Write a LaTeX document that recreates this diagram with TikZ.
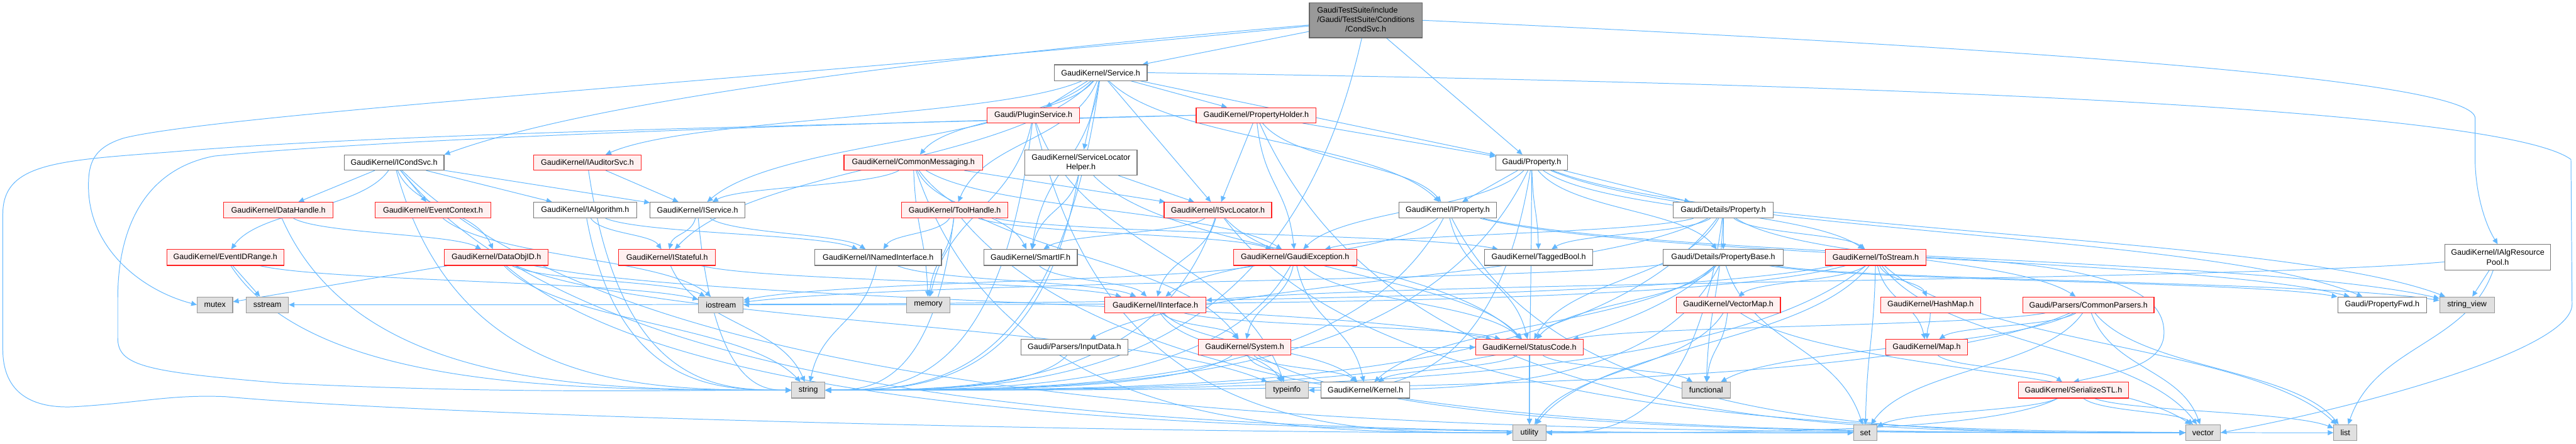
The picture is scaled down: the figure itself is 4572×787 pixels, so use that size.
\documentclass[tikz,border=0pt]{standalone}
\usepackage{fontspec}
\setmainfont{Liberation Sans}
\usetikzlibrary{arrows.meta,calc}
\definecolor{edgec}{HTML}{63B8FF}
\definecolor{nodeb}{HTML}{777777}
\definecolor{redb}{HTML}{FF2020}
\definecolor{pinkf}{HTML}{FFF0F0}
\definecolor{sysf}{HTML}{E0E0E0}
\definecolor{sysb}{HTML}{999999}
\definecolor{rootf}{HTML}{999999}
\definecolor{rootb}{HTML}{666666}
\pgfdeclarelayer{bgzero}
\pgfdeclarelayer{edges}
\pgfsetlayers{bgzero,edges,main}
\newcommand\Es[2]{\draw[edge] (#1) -- (#2);}
\newcommand\Ev[2]{\draw[edge] let \p1=(#1), \p2=(#2) in (#1) .. controls ({\x1+0.2*(\x2-\x1)},{0.5*(\y1+\y2)}) and ({\x1+0.8*(\x2-\x1)},{0.5*(\y1+\y2)}) .. (#2);}
\newcommand\Eh[2]{\draw[edge] let \p1=(#1), \p2=(#2) in (#1) .. controls ({\x1+0.15*(\x2-\x1)},{\y2}) and ({\x1+0.6*(\x2-\x1)},{\y2}) .. (#2);}
\begin{document}
\begin{tikzpicture}[x=1pt,y=-1pt,
  base/.style={draw, line width=1.3pt, inner sep=0pt, minimum height=28pt, font=\fontsize{14}{17}\selectfont},
  wbox/.style={base, draw=nodeb, fill=white},
  rbox/.style={base, draw=redb, fill=pinkf},
  sbox/.style={base, draw=sysb, fill=sysf},
  rootbox/.style={base, draw=rootb, fill=rootf},
  edge/.style={draw=edgec, line width=1.1pt, -{Triangle[length=10pt,width=9pt]}}]
\begin{pgfonlayer}{bgzero}
\fill[white] (0,0) rectangle (4572,787);
\end{pgfonlayer}
\useasboundingbox (0,0) rectangle (4572,787);
% row 1
\node[rootbox, minimum width=200pt, minimum height=62pt] (cond) at (2424,36) {\begin{tabular}{@{}l@{}}GaudiTestSuite/include\\/Gaudi/TestSuite/Conditions\\\multicolumn{1}{@{}c@{}}{/CondSvc.h}\end{tabular}};
% row 2
\node[wbox, minimum width=165pt] (service) at (1953.5,129) {GaudiKernel/Service.h};
% row 3
\node[rbox, minimum width=164pt, minimum height=27pt] (plugin) at (1834,204.5) {Gaudi/PluginService.h};
\node[rbox, minimum width=213pt, minimum height=27pt] (holder) at (2229.5,204.5) {GaudiKernel/PropertyHolder.h};
% row 4
\node[wbox, minimum width=177pt, minimum height=27pt] (icond) at (699.5,288.5) {GaudiKernel/ICondSvc.h};
\node[rbox, minimum width=191pt, minimum height=27pt] (iaud) at (1042.5,288.5) {GaudiKernel/IAuditorSvc.h};
\node[rbox, minimum width=246pt, minimum height=27pt] (cmsg) at (1621,288.5) {GaudiKernel/CommonMessaging.h};
\node[wbox, minimum width=199pt, minimum height=45pt, align=center] (slh) at (1918.5,288.5) {GaudiKernel/ServiceLocator\\Helper.h};
\node[wbox, minimum width=127pt, minimum height=27pt] (prop) at (2718.5,288.5) {Gaudi/Property.h};
\node[wbox, minimum width=188pt, minimum height=45pt, align=center] (pool) at (4433,456.5) {GaudiKernel/IAlgResource\\Pool.h};
% row 5
\node[rbox, minimum width=194pt] (datah) at (494,373) {GaudiKernel/DataHandle.h};
\node[rbox, minimum width=205pt] (evctx) at (768.5,373) {GaudiKernel/EventContext.h};
\node[wbox, minimum width=183pt] (ialg) at (1038.5,373) {GaudiKernel/IAlgorithm.h};
\node[wbox, minimum width=168pt] (iservice) at (1238,373) {GaudiKernel/IService.h};
\node[rbox, minimum width=189pt] (toolh) at (1694.5,373) {GaudiKernel/ToolHandle.h};
\node[rbox, minimum width=191pt] (isvcloc) at (2161.5,373) {GaudiKernel/ISvcLocator.h};
\node[wbox, minimum width=173pt] (iprop) at (2569.5,373) {GaudiKernel/IProperty.h};
\node[wbox, minimum width=177pt] (dprop) at (3058.5,373) {Gaudi/Details/Property.h};
% row 6
\node[rbox, minimum width=208pt] (evrange) at (400,457) {GaudiKernel/EventIDRange.h};
\node[rbox, minimum width=184pt] (dataobj) at (881,457) {GaudiKernel/DataObjID.h};
\node[rbox, minimum width=172pt] (istateful) at (1184,457) {GaudiKernel/IStateful.h};
\node[wbox, minimum width=225pt] (inamed) at (1558.5,457) {GaudiKernel/INamedInterface.h};
\node[wbox, minimum width=166pt] (smartif) at (1829,457) {GaudiKernel/SmartIF.h};
\node[rbox, minimum width=219pt] (gexc) at (2298.5,457) {GaudiKernel/GaudiException.h};
\node[wbox, minimum width=192pt] (tbool) at (2731,457) {GaudiKernel/TaggedBool.h};
\node[wbox, minimum width=213pt] (pbase) at (3058.5,457) {Gaudi/Details/PropertyBase.h};
\node[rbox, minimum width=178pt] (tostream) at (3329,457) {GaudiKernel/ToStream.h};
% row 7
\node[sbox, minimum width=63pt] (mutex) at (381.5,541) {mutex};
\node[sbox, minimum width=75pt] (sstream) at (474.5,541) {sstream};
\node[sbox, minimum width=79pt] (iostream) at (1279.5,541) {iostream};
\node[sbox, minimum width=77pt] (memory) at (1647.5,541) {memory};
\node[rbox, minimum width=179pt] (iinterface) at (2050.5,541) {GaudiKernel/IInterface.h};
\node[rbox, minimum width=185pt] (vmap) at (3067.5,541) {GaudiKernel/VectorMap.h};
\node[rbox, minimum width=177pt] (hmap) at (3426.5,541) {GaudiKernel/HashMap.h};
\node[rbox, minimum width=233pt] (cparsers) at (3706.5,541) {Gaudi/Parsers/CommonParsers.h};
\node[wbox, minimum width=158pt] (pfwd) at (4228,541) {Gaudi/PropertyFwd.h};
\node[sbox, minimum width=97pt] (sview) at (4378.5,541) {string\_view};
% row 8
\node[wbox, minimum width=190pt] (input) at (1907,616.5) {Gaudi/Parsers/InputData.h};
\node[rbox, minimum width=164pt] (system) at (2209,616.5) {GaudiKernel/System.h};
\node[rbox, minimum width=191pt] (statuscode) at (2714.5,616.5) {GaudiKernel/StatusCode.h};
\node[rbox, minimum width=145pt] (map) at (3419.5,616.5) {GaudiKernel/Map.h};
% row 9
\node[sbox, minimum width=59pt] (string) at (1434.5,692.5) {string};
\node[sbox, minimum width=76pt] (typeinfo) at (2284,692.5) {typeinfo};
\node[wbox, minimum width=157pt] (kernel) at (2423.5,692.5) {GaudiKernel/Kernel.h};
\node[sbox, minimum width=86pt] (functional) at (3028,692.5) {functional};
\node[rbox, minimum width=196pt] (serial) at (3680,692.5) {GaudiKernel/SerializeSTL.h};
% row 10
\node[sbox, minimum width=59pt] (utility) at (2714.5,768) {utility};
\node[sbox, minimum width=41pt] (set) at (3310.5,768) {set};
\node[sbox, minimum width=62pt] (vector) at (3910,768) {vector};
\node[sbox, minimum width=41pt] (list) at (4162.5,768) {list};

\begin{pgfonlayer}{edges}
% CondSvc
\Es{cond}{service}
\Es{cond}{prop}
\draw[edge] (cond) .. controls (1900,80) and (1100,160) .. (icond.north east);
\draw[edge] (cond.east) .. controls (3800,95) and (4393,150) .. (4393,210) -- (4393,290) .. controls (4395,350) and (4412,400) .. (pool.north);
\draw[edge] (cond) .. controls (1500,130) and (400,200) .. (220,245) .. controls (165,262) and (157,290) .. (157,330) .. controls (157,440) and (250,515) .. (mutex.west);
\Eh{cond}{string}
% Service
\Es{service}{plugin}
\Es{service}{prop}
\Ev{service}{cmsg}
\Ev{service}{iaud}
\Ev{service}{iprop}
\Ev{service}{iservice}
\Es{service}{isvcloc}
\Ev{service}{istateful}
\Es{service}{holder}
\Es{service}{slh}
\Ev{service}{smartif}
\Ev{service}{toolh}
\draw[edge] (service.east) .. controls (3500,150) and (4450,200) .. (4563,283) -- (4565,540) .. controls (4565,620) and (4200,720) .. (vector.east);
\Eh{service}{string}
% PluginService
\Eh{plugin}{string}
\Ev{plugin}{memory}
\Ev{plugin}{typeinfo}
\Eh{plugin}{utility}
% PropertyHolder
\Es{holder}{prop}
\Ev{holder}{iprop}
\Es{holder}{isvcloc}
\Ev{holder}{gexc}
\Eh{holder}{vector}
\draw[edge] (holder.west) .. controls (1500,222) and (700,235) .. (300,270) .. controls (100,285) and (5,290) .. (5,380) -- (5,620) .. controls (5,700) and (60,725) .. (130,722) .. controls (250,715) and (300,700) .. (400,704) .. controls (800,740) and (2000,768) .. (utility.west);
\draw[edge] (holder.west) .. controls (1500,218) and (700,245) .. (380,277) .. controls (260,300) and (209,400) .. (209,530) -- (209,600) .. controls (209,650) and (260,660) .. (500,680) .. controls (900,700) and (1200,692) .. (string.west);
% ICondSvc
\Es{icond}{datah}
\Es{icond}{evctx}
\Ev{icond}{evrange}
\Es{icond}{ialg}
\Es{icond}{iservice}
\Ev{icond}{dataobj}
\Eh{icond}{set}
\Eh{icond}{string}
\Eh{icond}{vector}
% IAuditorSvc
\Es{iaud}{iservice}
\Eh{iaud}{string}
% CommonMessaging
\Ev{cmsg}{gexc}
\Es{cmsg}{isvcloc}
\Ev{cmsg}{smartif}
\Ev{cmsg}{system}
\Ev{cmsg}{memory}
\Eh{cmsg}{utility}
\Ev{cmsg}{iservice}
% ServiceLocatorHelper
\Es{slh}{isvcloc}
\Ev{slh}{smartif}
\Eh{slh}{string}
\Ev{slh}{statuscode}
% Gaudi/Property.h
\Es{prop}{dprop}
\Ev{prop}{pbase}
\Ev{prop}{pfwd}
\Es{prop}{iprop}
\Ev{prop}{tbool}
\Ev{prop}{tostream}
\Ev{prop}{gexc}
\Eh{prop}{string}
\Ev{prop}{sview}
\Eh{prop}{typeinfo}
\Ev{prop}{utility}
% IAlgResourcePool
\Es{pool}{sview}
\Ev{pool}{list}
\Ev{pool}{iinterface}
% row 5 sources
\Ev{datah}{dataobj}
\Eh{datah}{string}
\Ev{evctx}{iostream}
\Ev{ialg}{inamed}
\Ev{ialg}{istateful}
\Eh{ialg}{string}
\Ev{iservice}{inamed}
\Ev{iservice}{istateful}
\Eh{iservice}{string}
\Ev{toolh}{inamed}
\Ev{toolh}{gexc}
\Ev{toolh}{tbool}
\Eh{toolh}{string}
\Eh{toolh}{vector}
\Ev{toolh}{memory}
\Ev{isvcloc}{iinterface}
\Ev{isvcloc}{smartif}
\Ev{isvcloc}{statuscode}
\Eh{isvcloc}{list}
\Eh{isvcloc}{string}
\Ev{iprop}{iinterface}
\Ev{iprop}{statuscode}
\Ev{iprop}{pfwd}
\Eh{iprop}{string}
\Ev{iprop}{sview}
\Eh{iprop}{vector}
\Es{dprop}{pbase}
\Ev{dprop}{tbool}
\Ev{dprop}{tostream}
\Ev{dprop}{cparsers}
\Ev{dprop}{input}
\Ev{dprop}{gexc}
\Ev{dprop}{statuscode}
\Eh{dprop}{string}
\Eh{dprop}{utility}
\Ev{dprop}{functional}
% row 6 sources
\Es{evrange}{sstream}
\Ev{evrange}{iostream}
\Eh{evrange}{string}
\Es{dataobj}{mutex}
\Ev{dataobj}{iostream}
\Ev{dataobj}{string}
\Ev{dataobj}{statuscode}
\Eh{dataobj}{set}
\Ev{dataobj}{typeinfo}
\Ev{istateful}{iinterface}
\Ev{istateful}{string}
\Ev{inamed}{iinterface}
\Ev{inamed}{string}
\Ev{smartif}{iinterface}
\Ev{gexc}{kernel}
\Ev{gexc}{statuscode}
\Ev{gexc}{system}
\Ev{gexc}{iostream}
\Eh{gexc}{string}
\Ev{pbase}{pfwd}
\Ev{pbase}{kernel}
\Ev{pbase}{statuscode}
\Ev{pbase}{iostream}
\Ev{pbase}{set}
\Eh{pbase}{string}
\Ev{pbase}{sview}
\Eh{pbase}{typeinfo}
\Ev{tostream}{vmap}
\Ev{tostream}{hmap}
\Ev{tostream}{map}
\draw[edge] (tostream.east) .. controls (3750,470) and (3850,520) .. (3840,600) .. controls (3830,650) and (3760,660) .. (serial.north);
\Ev{tostream}{set}
\Ev{tostream}{list}
\Ev{tostream}{vector}
\Eh{tostream}{sstream}
\Eh{tostream}{iostream}
\Eh{tostream}{string}
\Ev{tostream}{utility}
% row 7 sources
\Ev{vmap}{functional}
\Ev{vmap}{utility}
\Ev{vmap}{vector}
\Ev{hmap}{map}
\Ev{cparsers}{map}
\Ev{cparsers}{statuscode}
\Ev{cparsers}{functional}
\Ev{cparsers}{set}
\Ev{cparsers}{vector}
\Ev{cparsers}{list}
\Eh{cparsers}{string}
\Ev{iinterface}{system}
\Ev{iinterface}{statuscode}
\Ev{iinterface}{kernel}
\Ev{iinterface}{typeinfo}
% row 8 sources
\Eh{input}{string}
\Ev{system}{kernel}
\Ev{system}{typeinfo}
\Ev{system}{statuscode}
\Eh{system}{string}
\Eh{system}{vector}
\Ev{statuscode}{kernel}
\Ev{statuscode}{functional}
\Es{statuscode}{utility}
\Ev{map}{serial}
% row 9 sources
\Ev{serial}{set}
\Ev{serial}{list}
\Ev{serial}{vector}
\Eh{serial}{utility}
\end{pgfonlayer}
\end{tikzpicture}
\end{document}
